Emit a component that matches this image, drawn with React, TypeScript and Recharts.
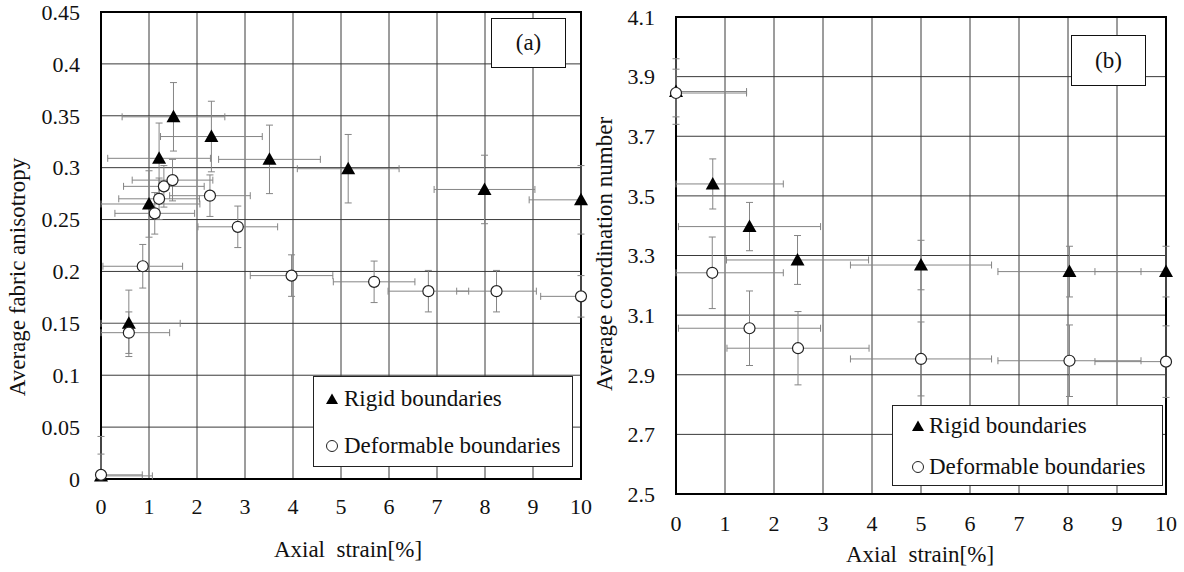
import {
  ScatterChart,
  Scatter,
  XAxis,
  YAxis,
  CartesianGrid,
  ErrorBar,
  ReferenceArea,
  Legend,
} from "recharts"

// shared x axis
const strainTicks = [0, 1, 2, 3, 4, 5, 6, 7, 8, 9, 10]

// (a) fabric anisotropy
const anisotropyTicks = [0, 0.05, 0.1, 0.15, 0.2, 0.25, 0.3, 0.35, 0.4, 0.45]
const rigidStrainA = [0, 0.58, 1.0, 1.21, 1.51, 2.3, 3.51, 5.15, 7.99, 10]
const rigidAnisotropy = [0.003, 0.15, 0.265, 0.309, 0.349, 0.33, 0.308, 0.299, 0.279, 0.269]
const rigidStrainErrA = [1.07, 1.07, 1.06, 1.07, 1.07, 1.06, 1.06, 1.06, 1.05, 1.08]
const rigidAnisotropyErr = [0.038, 0.032, 0.032, 0.034, 0.033, 0.034, 0.033, 0.033, 0.033, 0.033]
const deformStrainA = [0, 0.58, 0.87, 1.12, 1.21, 1.31, 1.49, 2.27, 2.85, 3.97, 5.69, 6.82, 8.24, 10]
const deformAnisotropy = [0.004, 0.141, 0.205, 0.256, 0.27, 0.282, 0.288, 0.273, 0.243, 0.196, 0.19, 0.181, 0.181, 0.176]
const deformStrainErrA = [0.86, 0.85, 0.83, 0.83, 0.84, 0.84, 0.84, 0.84, 0.83, 0.86, 0.85, 0.84, 0.83, 0.84]
const deformAnisotropyErr = [0.02, 0.02, 0.021, 0.02, 0.02, 0.02, 0.02, 0.02, 0.02, 0.02, 0.02, 0.02, 0.02, 0.02]

// (b) coordination number
const coordinationTicks = [2.5, 2.7, 2.9, 3.1, 3.3, 3.5, 3.7, 3.9, 4.1]
const rigidStrainB = [0, 0.75, 1.5, 2.48, 5.0, 8.03, 10]
const rigidCoordination = [3.85, 3.54, 3.397, 3.285, 3.268, 3.246, 3.246]
const rigidStrainErrB = [1.44, 1.44, 1.45, 1.45, 1.44, 1.46, 1.45]
const rigidCoordinationErr = [0.11, 0.084, 0.081, 0.082, 0.083, 0.085, 0.085]
const deformStrainB = [0, 0.74, 1.5, 2.49, 5.0, 8.03, 10]
const deformCoordination = [3.845, 3.242, 3.056, 2.989, 2.953, 2.947, 2.944]
const deformStrainErrB = [1.44, 1.45, 1.45, 1.45, 1.44, 1.46, 1.45]
const deformCoordinationErr = [0.08, 0.12, 0.125, 0.123, 0.124, 0.12, 0.12]

const FONT = '"Liberation Serif", "Times New Roman", serif'
const ERR_COLOR = "#858585"

// error bars are cut at the frame, like the original plot
function buildRows(xs: number[], ys: number[], xErr: number[], yErr: number[], xDom: number[], yDom: number[]) {
  return xs.map((x, i) => ({
    x,
    y: ys[i],
    ex: [Math.min(xErr[i], x - xDom[0]), Math.min(xErr[i], xDom[1] - x)],
    ey: [Math.min(yErr[i], ys[i] - yDom[0]), Math.min(yErr[i], yDom[1] - ys[i])],
  }))
}

function Triangle(props: any) {
  const { cx, cy } = props
  if (cx == null || cy == null) return null
  return <path d={`M${cx},${cy - 7}L${cx + 7},${cy + 5.5}L${cx - 7},${cy + 5.5}Z`} fill="#000" />
}

function Ring(props: any) {
  const { cx, cy } = props
  if (cx == null || cy == null) return null
  return <circle cx={cx} cy={cy} r={5.5} fill="#fff" stroke="#222" strokeWidth={1.2} />
}

function LegendBox({ payload, rows, markerX, textX }: any) {
  // triangles first, as in the original legend
  const items = [...(payload || [])].sort((a: any, b: any) => (a.type === "triangle" ? 0 : 1) - (b.type === "triangle" ? 0 : 1))
  return (
    <div style={{ position: "relative", width: "100%", height: "100%", boxSizing: "border-box", border: "1.5px solid #222", background: "#fff" }}>
      {items.map((entry: any, i: number) => (
        <div key={entry.value} style={{ position: "absolute", left: 0, top: rows[i], width: "100%" }}>
          <svg width={16} height={16} style={{ position: "absolute", left: markerX - 8, top: -8 }}>
            {entry.type === "triangle" ? (
              <path d="M8,2.5L14,13L2,13Z" fill="#000" />
            ) : (
              <circle cx={8} cy={8} r={5.5} fill="#fff" stroke="#222" strokeWidth={1} />
            )}
          </svg>
          <span style={{ position: "absolute", left: textX, top: -14, fontFamily: FONT, fontSize: 23, lineHeight: "28px", whiteSpace: "nowrap", color: "#111" }}>
            {entry.value}
          </span>
        </div>
      ))}
    </div>
  )
}

interface PanelProps {
  width: number
  height: number
  margin: { top: number; right: number; bottom: number; left: number }
  yAxisWidth: number
  xAxisHeight: number
  xTickMargin: number
  yDomain: number[]
  yTicks: number[]
  rigid: any[]
  deform: any[]
  legendPos: { left: number; top: number; width: number; height: number }
  legendRows: number[]
  legendMarkerX: number
  legendTextX: number
}

function Panel(p: PanelProps) {
  const tick = { fontFamily: FONT, fontSize: 22, fill: "#111" }
  return (
    <ScatterChart width={p.width} height={p.height} margin={p.margin}>
      <CartesianGrid stroke="#3a3a3a" strokeWidth={1} />
      <XAxis
        type="number"
        dataKey="x"
        domain={[0, 10]}
        ticks={strainTicks}
        interval={0}
        height={p.xAxisHeight}
        axisLine={false}
        tickLine={false}
        tickSize={0}
        tickMargin={p.xTickMargin}
        tick={tick}
      />
      <YAxis
        type="number"
        dataKey="y"
        domain={p.yDomain}
        ticks={p.yTicks}
        interval={0}
        width={p.yAxisWidth}
        axisLine={false}
        tickLine={false}
        tickSize={0}
        tickMargin={21}
        tick={tick}
      />
      <ReferenceArea x1={0} x2={10} y1={p.yDomain[0]} y2={p.yDomain[1]} fill="none" fillOpacity={0} stroke="#000" strokeWidth={2} />
      <Scatter name="Rigid boundaries" data={p.rigid} legendType="triangle" fill="#000" shape={Triangle} isAnimationActive={false}>
        <ErrorBar dataKey="ex" direction="x" width={3.5} stroke={ERR_COLOR} strokeWidth={1} />
        <ErrorBar dataKey="ey" direction="y" width={3.5} stroke={ERR_COLOR} strokeWidth={1} />
      </Scatter>
      <Scatter name="Deformable boundaries" data={p.deform} legendType="circle" fill="#fff" shape={Ring} isAnimationActive={false}>
        <ErrorBar dataKey="ex" direction="x" width={3.5} stroke={ERR_COLOR} strokeWidth={1} />
        <ErrorBar dataKey="ey" direction="y" width={3.5} stroke={ERR_COLOR} strokeWidth={1} />
      </Scatter>
      <Legend
        layout="vertical"
        align="center"
        verticalAlign="middle"
        wrapperStyle={{ ...p.legendPos, position: "absolute" }}
        content={(props: any) => (
          <LegendBox payload={props.payload} rows={p.legendRows} markerX={p.legendMarkerX} textX={p.legendTextX} />
        )}
      />
    </ScatterChart>
  )
}

const textStyle = { position: "absolute" as const, fontFamily: FONT, color: "#111", whiteSpace: "nowrap" as const }

export default function App() {
  const domA = [0, 0.45]
  const domB = [2.5, 4.1]
  const rigidA = buildRows(rigidStrainA, rigidAnisotropy, rigidStrainErrA, rigidAnisotropyErr, [0, 10], domA)
  const deformA = buildRows(deformStrainA, deformAnisotropy, deformStrainErrA, deformAnisotropyErr, [0, 10], domA)
  const rigidB = buildRows(rigidStrainB, rigidCoordination, rigidStrainErrB, rigidCoordinationErr, [0, 10], domB)
  const deformB = buildRows(deformStrainB, deformCoordination, deformStrainErrB, deformCoordinationErr, [0, 10], domB)

  return (
    <div style={{ position: "absolute", left: 0, top: 0, width: 1184, height: 572, background: "#fff", overflow: "hidden" }}>
      <div style={{ position: "absolute", left: 0, top: 0 }}>
        <Panel
          width={600}
          height={572}
          margin={{ top: 12, right: 19, bottom: 0, left: 0 }}
          yAxisWidth={101}
          xAxisHeight={93}
          xTickMargin={19}
          yDomain={domA}
          yTicks={anisotropyTicks}
          rigid={rigidA}
          deform={deformA}
          legendPos={{ left: 313, top: 376, width: 260, height: 91 }}
          legendRows={[22, 69]}
          legendMarkerX={18}
          legendTextX={30}
        />
      </div>
      <div style={{ position: "absolute", left: 590, top: 0 }}>
        <Panel
          width={594}
          height={572}
          margin={{ top: 17, right: 18, bottom: 0, left: 0 }}
          yAxisWidth={86}
          xAxisHeight={78}
          xTickMargin={21}
          yDomain={domB}
          yTicks={coordinationTicks}
          rigid={rigidB}
          deform={deformB}
          legendPos={{ left: 302, top: 405, width: 271, height: 81 }}
          legendRows={[20, 61]}
          legendMarkerX={25}
          legendTextX={36}
        />
      </div>

      {/* axis titles */}
      <div style={{ ...textStyle, left: 18, top: 277, fontSize: 23, transform: "translate(-50%, -50%) rotate(-90deg)" }}>
        Average fabric anisotropy
      </div>
      <div style={{ ...textStyle, left: 348, top: 550, fontSize: 23, transform: "translate(-50%, -50%)" }}>
        Axial&nbsp; strain[%]
      </div>
      <div style={{ ...textStyle, left: 605, top: 254, fontSize: 23, transform: "translate(-50%, -50%) rotate(-90deg)" }}>
        Average coordination number
      </div>
      <div style={{ ...textStyle, left: 920, top: 555, fontSize: 23, transform: "translate(-50%, -50%)" }}>
        Axial&nbsp; strain[%]
      </div>

      {/* panel tags */}
      <div style={{ ...textStyle, left: 491, top: 18, width: 75, height: 50, boxSizing: "border-box", border: "1.5px solid #111", background: "#fff", fontSize: 23, display: "flex", alignItems: "center", justifyContent: "center" }}>
        (a)
      </div>
      <div style={{ ...textStyle, left: 1071, top: 35, width: 75, height: 51, boxSizing: "border-box", border: "1.5px solid #111", background: "#fff", fontSize: 23, display: "flex", alignItems: "center", justifyContent: "center" }}>
        (b)
      </div>
    </div>
  )
}
